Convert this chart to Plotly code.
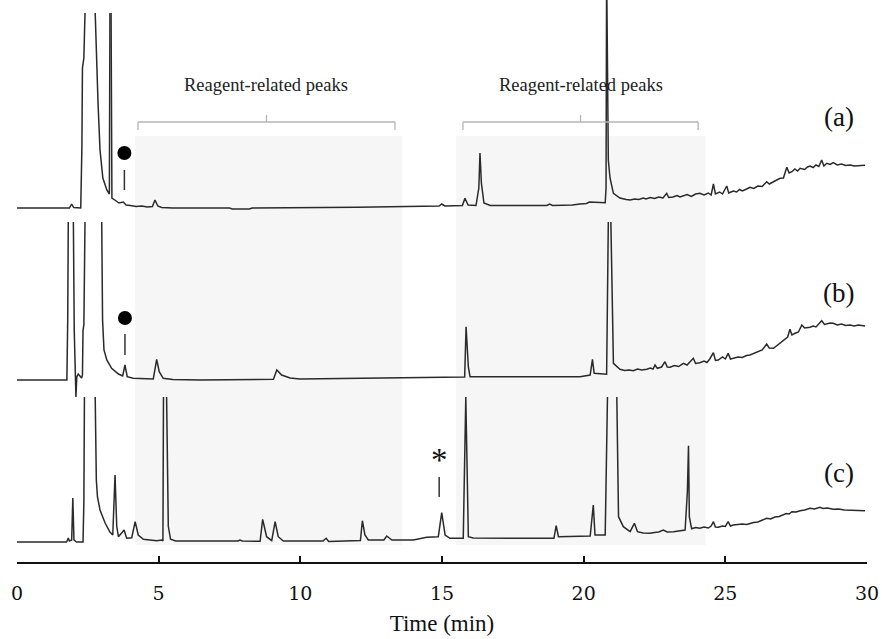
import plotly.graph_objects as go

# ---------------- data (time in min, detector signal above each baseline) ----------------
time_a = [0, 1.85, 1.93, 2.0, 2.25, 2.29, 2.31, 2.36, 2.40, None, 2.76, 2.79, 2.86, 2.93, 3.03, 3.17, 3.26,
          3.28, None, 3.32, 3.35, 3.45, 3.6, 3.75, 3.85, 4.0, 4.2, 4.4, 4.6, 4.78, 4.87, 4.97, 5.1, 5.5,
          7.5, 7.6, 8.2, 8.3, 11.3, 12.0, 14.9, 14.99, 15.1, 15.5, 15.72, 15.81, 15.92, 16.2, 16.30, 16.34,
          16.39, 16.48, 16.7, 18.7, 18.8, 18.9, 19.6, 19.87, 20.1, 20.2, 20.76, 20.79, 20.81, 20.87, 20.93,
          21.05, 21.28, 21.5, 21.64, 21.8, 21.95, 22.1, 22.2, 22.35, 22.5, 22.65, 22.8, 22.93, 23.0, 23.15,
          23.3, 23.4, 23.5, 23.65, 23.8, 23.95, 24.1, 24.25, 24.4, 24.5, 24.58, 24.65, 24.8, 24.9, 25.05,
          25.12, 25.28, 25.4, 25.5, 25.6, 25.75, 25.87, 26.0, 26.15, 26.3, 26.46, 26.55, 26.7, 26.8, 26.93,
          27.05, 27.17, 27.25, 27.35, 27.45, 27.55, 27.64, 27.8, 27.9, 27.99, 28.1, 28.2, 28.3, 28.4, 28.48,
          28.58, 28.7, 28.81, 28.95, 29.1, 29.25, 29.4, 29.55, 29.7, 29.93]
signal_a = [0, 0, 4, 0.5, 0, 60, 140, 150, 195, None, 195, 160, 105, 58, 30, 18, 14,
            195, None, 195, 10, 8, 5, 6, 3, 2.5, 1.5, 2, 1, 1.5, 8, 2, 0.5, 0,
            0, -1, -1, 0, 0.5, 0.8, 2, 4, 2, 2, 2.5, 9.7, 3, 2.5, 20, 55,
            25, 5, 2.5, 2.5, 4, 2.5, 3, 4, 4.5, 6, 5.3, 20, 240, 48, 30,
            14.7, 10, 8.5, 8, 9, 8.5, 10, 9, 10.5, 9.5, 11, 10, 14.7, 10.5, 11,
            12.5, 11, 12, 13.5, 11.5, 14, 14.7, 13, 15, 13, 24, 14, 16, 14, 22,
            15, 17, 16, 18.5, 17, 19, 20.7, 19.5, 22, 21.5, 26.3, 24, 26, 27.5, 29.7,
            30, 40.7, 35, 36.3, 39, 37, 39.7, 38.5, 41, 42, 40.5, 43, 41.5, 48, 42,
            44.7, 43.5, 45.3, 43, 44, 42.5, 43, 42, 42.5, 42.7]

time_b = [0, 1.76, 1.79, 1.81, None, 1.99, 2.02, 2.06, 2.08, 2.11, 2.16, 2.22, 2.28, 2.31, 2.33, 2.36,
          2.40, None, 2.99, 3.02, 3.07, 3.17, 3.34, 3.58, 3.73, 3.81, 3.89, 4.1, 4.81, 4.93, 5.02, 5.16,
          5.5, 6.46, 9.05, 9.17, 9.34, 9.64, 9.99, 13.5, 15.05, 15.8, 15.85, 15.93, 15.99, 19.87, 20.23,
          20.31, 20.37, 20.81, 20.87, None, 20.96, 21.05, 21.28, 21.45, 21.6, 21.75, 21.9, 22.05, 22.23,
          22.35, 22.45, 22.52, 22.6, 22.75, 22.87, 22.95, 23.05, 23.2, 23.35, 23.52, 23.65, 23.75, 23.87,
          23.95, 24.1, 24.25, 24.35, 24.45, 24.58, 24.65, 24.75, 24.9, 25.0, 25.1, 25.18, 25.28, 25.45,
          25.6, 25.75, 25.87, 26.0, 26.15, 26.3, 26.46, 26.55, 26.7, 26.85, 27.0, 27.1, 27.2, 27.28,
          27.35, 27.46, 27.58, 27.7, 27.8, 27.99, 28.1, 28.2, 28.3, 28.4, 28.5, 28.58, 28.7, 28.81,
          28.95, 29.1, 29.25, 29.4, 29.55, 29.7, 29.93]
signal_b = [0, 0, 60, 158, None, 158, 50, 5, -17, 3, 6, 4, 2, 5, 50, 55,
            158, None, 158, 60, 30, 20, 11.7, 6, 4, 15, 3.3, 1.7, 1, 20.7, 8.3, 1.7,
            0.5, 0, 0.7, 10, 5, 2, 1, 1.7, 2.7, 3, 53.3, 13, 3.3, 3.3, 5,
            20.7, 6.7, 5.7, 158, None, 158, 16.7, 10.7, 9.5, 10, 9.3, 11, 10, 10.7,
            12, 11, 15, 11.7, 13, 18.3, 13, 12.7, 14.5, 13.5, 16.7, 15, 18, 21.7,
            16.5, 17.3, 19, 17.5, 21, 27.3, 19.5, 20, 23, 21, 26.7, 21, 21.7, 23,
            22.5, 24.5, 25, 26.5, 28, 30, 36, 32, 31.7, 35, 38, 40, 43, 50.7,
            45, 46.7, 48, 55, 52, 52.7, 54, 53, 56, 59.3, 55.5, 56, 57, 56.7,
            55, 56, 54.5, 55, 54, 55, 54]

time_c = [0, 1.75, 1.81, 1.85, 1.93, 1.97, 2.01, 2.10, 2.33, 2.36, 2.38, None, 2.76, 2.80, 2.84, 2.93,
          3.11, 3.28, 3.38, 3.43, 3.46, 3.52, 3.58, 3.78, 3.87, 4.05, 4.17, 4.28, 4.46, 4.93, 5.10, 5.15,
          5.17, None, 5.28, 5.34, 5.42, 5.6, 7.8, 7.87, 7.95, 8.58, 8.67, 8.81, 8.99, 9.11, 9.22, 9.4,
          10.8, 10.91, 11.0, 11.75, 12.12, 12.19, 12.28, 12.4, 12.95, 13.05, 13.23, 13.99, 14.46, 14.87,
          14.99, 15.11, 15.28, 15.75, 15.84, 15.93, 16.1, 18.95, 19.03, 19.11, 20.23, 20.34, 20.40, 20.76,
          20.84, None, 21.17, 21.23, 21.40, 21.64, 21.79, 21.90, 22.1, 22.34, 22.5, 22.65, 22.81, 22.95,
          23.17, 23.35, 23.58, 23.66, 23.70, 23.73, 23.81, 23.95, 24.1, 24.25, 24.4, 24.5, 24.58, 24.65,
          24.75, 24.9, 25.0, 25.1, 25.18, 25.28, 25.45, 25.6, 25.75, 25.87, 26.0, 26.15, 26.3, 26.46,
          26.6, 26.75, 26.9, 27.05, 27.15, 27.25, 27.35, 27.5, 27.64, 27.8, 27.99, 28.15, 28.34, 28.45,
          28.6, 28.81, 29.0, 29.2, 29.4, 29.6, 29.93]
signal_c = [0, 0, 4, 1, 2, 44, 2, 0, 0, 40, 145, None, 145, 62, 45, 32,
            19, 10, 7, 50, 67, 15.7, 5.3, 12, 3.7, 4.3, 20.3, 7, 2.7, 1.3, 2, 1,
            145, None, 145, 15.7, 2.7, 1, 1, 2, 1, 0.7, 22.7, 5.3, 1.3, 20.3, 5.3, 1,
            1, 3.7, 0.5, 1.3, 1.5, 21.3, 7, 2, 2, 6, 2, 2, 4.7, 5.3,
            29.3, 7, 3.7, 3.7, 145, 5.3, 4, 3.7, 16.3, 5.3, 6, 37, 7, 7,
            145, None, 145, 25.3, 15.3, 10.3, 18.7, 10.3, 9, 8.7, 9.5, 10, 12, 10,
            10.3, 11, 12, 50, 96.3, 25, 13.3, 14.5, 13.7, 15, 14, 16, 20.3, 15,
            14.7, 16, 15.5, 20.3, 16, 17, 17.5, 18, 17.5, 18.7, 19.5, 20, 21.5, 23.7,
            23, 25, 25.5, 27, 28.5, 28, 30.3, 30, 31.3, 32, 33.7, 33, 34.7, 33.5,
            34, 32.7, 33, 32, 32, 31.8, 31.3]

trace_labels = ["(a)", "(b)", "(c)"]
region_starts = [4.17, 15.5]
region_ends = [13.6, 24.3]
bracket_starts = [4.27, 15.74]
bracket_ends = [13.34, 24.04]
region_label = "Reagent-related peaks"
circle_times = [3.79, 3.81]      # marked peak in (a) and (b)
asterisk_time = 14.9             # marked peak in (c)
x_ticks = [0, 5, 10, 15, 20, 25, 30]

# ---------------- layout / style ----------------
OFFSET = {"a": 354, "b": 182, "c": 20}   # vertical stacking of the traces
LINE = "#2a2a2a"
SERIF = "Liberation Serif"

def shift(vals, off):
    return [None if v is None else v + off for v in vals]

fig = go.Figure()

# shaded regions
for x0, x1 in zip(region_starts, region_ends):
    fig.add_shape(type="rect", xref="x", yref="y", x0=x0, x1=x1, y0=17, y1=426,
                  fillcolor="#f6f6f6", line=dict(width=0), layer="below")

# brackets + labels
for x0, x1 in zip(bracket_starts, bracket_ends):
    xm = (x0 + x1) / 2
    bc = dict(color="#b4b4b4", width=1.3)
    fig.add_shape(type="line", x0=x0, x1=x1, y0=440, y1=440, line=bc)
    fig.add_shape(type="line", x0=x0, x1=x0, y0=440, y1=432, line=bc)
    fig.add_shape(type="line", x0=x1, x1=x1, y0=440, y1=432, line=bc)
    fig.add_shape(type="line", x0=xm, x1=xm, y0=440, y1=447, line=bc)
    fig.add_annotation(x=xm, y=477, text=region_label, showarrow=False,
                       font=dict(family=SERIF, size=18.5, color="#222"))

for key, t, s in [("a", time_a, signal_a), ("b", time_b, signal_b), ("c", time_c, signal_c)]:
    fig.add_trace(go.Scatter(x=t, y=shift(s, OFFSET[key]), mode="lines",
                             line=dict(color=LINE, width=1.5), hoverinfo="skip",
                             showlegend=False, connectgaps=False))

# trace labels
for lab, key in zip(trace_labels, ["a", "b", "c"]):
    dy = {"a": 91, "b": 87, "c": 69}[key]
    fig.add_annotation(x=29.0, y=OFFSET[key] + dy, text=lab, showarrow=False,
                       font=dict(family=SERIF, size=27, color="#111"))

# circle markers with indicator lines
circle_h = {"a": (55, 18, 38), "b": (62, 25, 46)}
for t, key in zip(circle_times, ["a", "b"]):
    yc, l0, l1 = circle_h[key]
    fig.add_trace(go.Scatter(x=[t], y=[OFFSET[key] + yc], mode="markers",
                             marker=dict(size=14, color="black"), hoverinfo="skip",
                             showlegend=False))
    fig.add_shape(type="line", x0=t, x1=t, y0=OFFSET[key] + l0, y1=OFFSET[key] + l1,
                  line=dict(color="#333", width=1.5))

# asterisk
fig.add_annotation(x=asterisk_time, y=OFFSET["c"] + 82, text="*", showarrow=False,
                   font=dict(family=SERIF, size=33, color="#111"))
fig.add_shape(type="line", x0=asterisk_time, x1=asterisk_time, y0=OFFSET["c"] + 45,
              y1=OFFSET["c"] + 65, line=dict(color="#333", width=1.5))

fig.update_layout(
    width=882, height=639,
    margin=dict(l=17, r=15, t=0, b=77),
    paper_bgcolor="white", plot_bgcolor="white",
    xaxis=dict(range=[0, 30], tickvals=x_ticks, ticks="inside", ticklen=6, tickwidth=1.5,
               tickcolor="#111", showline=True, linecolor="#111", linewidth=1.5,
               showgrid=False, zeroline=False, ticklabelstandoff=13,
               tickfont=dict(family="DejaVu Serif", size=19, color="#111"),
               title=dict(text="Time (min)", font=dict(family=SERIF, size=23, color="#111"),
                          standoff=12)),
    yaxis=dict(range=[0, 562], visible=False, fixedrange=True),
)

fig.write_html("out.html", config={"displayModeBar": False},
               post_script="document.body.style.margin='0';document.body.style.overflow='hidden';")
